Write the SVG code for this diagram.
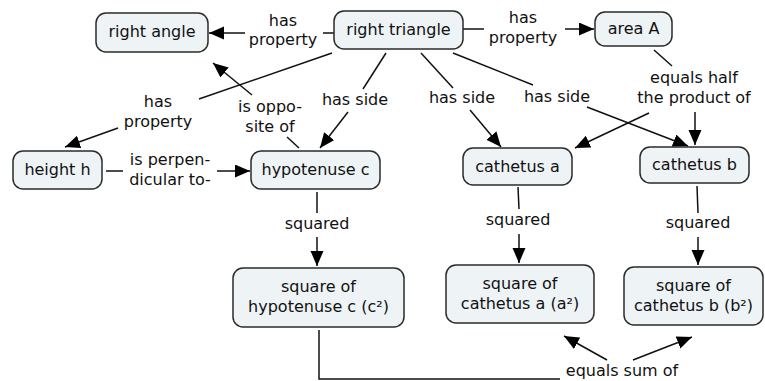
<svg xmlns="http://www.w3.org/2000/svg" width="765" height="381" viewBox="0 0 765 381">
<style>
.n rect{fill:#eef3f6;stroke:#2b2b2b;stroke-width:1.5}
text{font-family:"DejaVu Sans",Verdana,sans-serif;font-size:16px;fill:#111;text-anchor:middle}
.c line,.c polyline{stroke:#111;stroke-width:1.5;fill:none}
.c .a{marker-end:url(#ah)}
</style>
<defs>
<marker id="ah" markerUnits="userSpaceOnUse" markerWidth="16" markerHeight="14" refX="15" refY="6.5" orient="auto">
<path d="M0,0 L15,6.5 L0,13 z" fill="#000"/>
</marker>
</defs>
<rect width="765" height="381" fill="#fff"/>
<g class="c" id="connectors">
<line x1="334" y1="33" x2="323" y2="33"/>
<line class="a" x1="245" y1="33" x2="209" y2="33"/>
<line x1="463" y1="29" x2="484" y2="29"/>
<line class="a" x1="565" y1="29" x2="594" y2="29"/>
<line x1="332" y1="53" x2="199" y2="99"/>
<line class="a" x1="118" y1="128" x2="65" y2="147"/>
<line x1="299" y1="148" x2="287" y2="137"/>
<line class="a" x1="252" y1="95" x2="213" y2="63"/>
<line x1="386" y1="53" x2="363" y2="89"/>
<line class="a" x1="348" y1="112" x2="320" y2="148"/>
<line x1="421" y1="53" x2="453" y2="88"/>
<line class="a" x1="470" y1="110" x2="501" y2="147"/>
<line x1="453" y1="53" x2="533" y2="85"/>
<line class="a" x1="587" y1="107" x2="688" y2="146"/>
<line x1="654" y1="50" x2="672" y2="66"/>
<line class="a" x1="649" y1="113" x2="575" y2="148"/>
<line class="a" x1="695" y1="112" x2="695" y2="145"/>
<line x1="106" y1="171" x2="123" y2="171"/>
<line class="a" x1="217" y1="171" x2="250" y2="171"/>
<line x1="317" y1="192" x2="317" y2="213"/>
<line class="a" x1="317" y1="237" x2="317" y2="266"/>
<line x1="518" y1="187" x2="519" y2="209"/>
<line class="a" x1="519" y1="234" x2="519" y2="263"/>
<line x1="697" y1="186" x2="698" y2="213"/>
<line class="a" x1="698" y1="237" x2="698" y2="265"/>
<polyline points="319,330 319,379 560,379"/>
<line class="a" x1="607" y1="360" x2="564" y2="336"/>
<line class="a" x1="633" y1="360" x2="692" y2="337"/>
</g>
<g id="labels">
<text x="283" y="26">has</text><text x="283" y="45">property</text>
<text x="523" y="23">has</text><text x="523" y="43">property</text>
<text x="158" y="107">has</text><text x="158" y="127">property</text>
<text x="270" y="112">is oppo-</text><text x="270" y="132">site of</text>
<text x="355" y="105">has side</text>
<text x="462" y="103">has side</text>
<text x="557" y="102">has side</text>
<text x="694" y="83">equals half</text><text x="694" y="103">the product of</text>
<text x="170" y="165">is perpen-</text><text x="170" y="185">dicular to-</text>
<text x="317" y="229">squared</text>
<text x="518" y="225">squared</text>
<text x="698" y="228">squared</text>
<text x="622" y="376">equals sum of</text>
</g>
<g class="n" id="right-angle"><rect x="96" y="13" width="112" height="39" rx="10"/><text x="152" y="37">right angle</text></g>
<g class="n" id="right-triangle"><rect x="334" y="11" width="129" height="38" rx="10"/><text x="398.5" y="35">right triangle</text></g>
<g class="n" id="area-a"><rect x="595" y="12" width="77" height="34" rx="10"/><text x="633.5" y="34">area A</text></g>
<g class="n" id="height-h"><rect x="13" y="151" width="89" height="38" rx="10"/><text x="57.5" y="175">height h</text></g>
<g class="n" id="hypotenuse-c"><rect x="251" y="151" width="129" height="38" rx="10"/><text x="315.5" y="175">hypotenuse c</text></g>
<g class="n" id="cathetus-a"><rect x="463" y="148" width="109" height="37" rx="10"/><text x="517.5" y="172">cathetus a</text></g>
<g class="n" id="cathetus-b"><rect x="640" y="147" width="109" height="36" rx="10"/><text x="694.5" y="170">cathetus b</text></g>
<g class="n" id="square-c"><rect x="233" y="268" width="171" height="59" rx="10"/><text x="318.5" y="292">square of</text><text x="318.5" y="312">hypotenuse c (c²)</text></g>
<g class="n" id="square-a"><rect x="446" y="265" width="148" height="58" rx="10"/><text x="520" y="289">square of</text><text x="520" y="309">cathetus a (a²)</text></g>
<g class="n" id="square-b"><rect x="624" y="267" width="139" height="58" rx="10"/><text x="693.5" y="291">square of</text><text x="693.5" y="311">cathetus b (b²)</text></g>
</svg>
